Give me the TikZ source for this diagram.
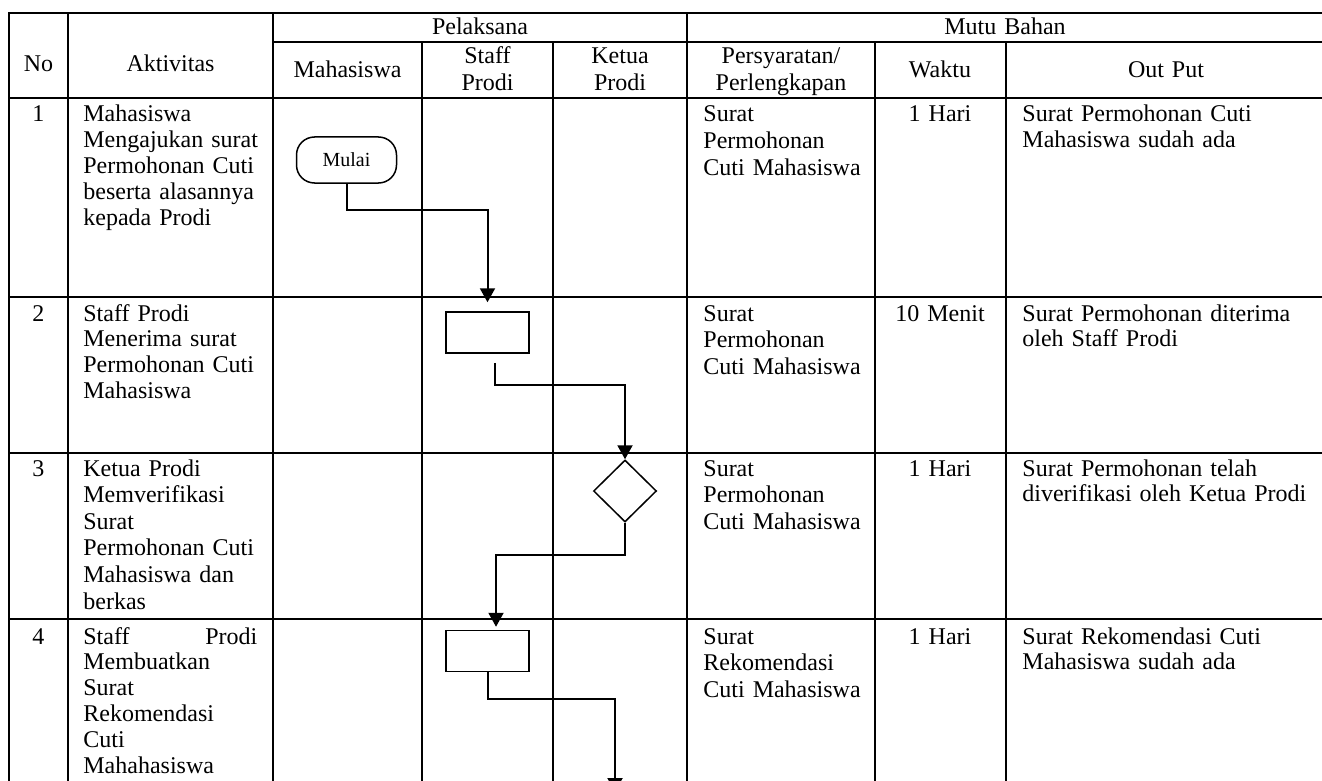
\documentclass[tikz,border=0pt]{standalone}
\usepackage{fontspec}
\setmainfont{Liberation Serif}
\usetikzlibrary{arrows.meta,shapes.geometric,positioning}

\begin{document}
\begin{tikzpicture}[x=0.5pt,y=-0.5pt,
  garis/.style={line width=1pt,line cap=rect},
  isi/.style={anchor=base west,inner sep=0pt,align=left,
    font=\fontsize{12}{12.9}\selectfont},
  aktivitas/.style={isi,text width=95pt},
  syarat/.style={isi,text width=80pt,font=\fontsize{12}{13.3}\selectfont},
  judul/.style={anchor=base,inner sep=0pt,align=center,text width=80pt,
    font=\fontsize{12}{13.4}\selectfont},
  terminal/.style={draw,line width=0.75pt,rounded corners=9pt,
    minimum width=50pt,minimum height=23pt,font=\fontsize{10}{12}\selectfont},
  proses/.style={draw,line width=0.75pt,minimum width=41.5pt,minimum height=20.5pt},
  keputusan/.style={draw,diamond,line width=0.75pt,inner sep=0pt,
    minimum width=31.5pt,minimum height=31pt},
  alur/.style={line width=1pt,-{Triangle[length=7pt,width=7.5pt]}}]
 \useasboundingbox (0,0) rectangle (1322,781);
 \clip (0,0) rectangle (1322,781);
 % garis tabel
 \foreach \x in {9,68,273,687} \draw[garis] (\x,13) -- (\x,800);
 \foreach \x in {422,553,875,1006} \draw[garis] (\x,42) -- (\x,800);
 \foreach \y in {13,98,297,453,619} \draw[garis] (9,\y) -- (1330,\y);
 \draw[garis] (273,42) -- (1330,42);
 % kepala tabel
 \node[judul] (hNo) at (38.5,72) {No};
 \node[judul] (hAkt) at (170.5,72) {Aktivitas};
 \node[judul] (hPel) at (480,35) {Pelaksana};
 \node[judul] (hMutu) at (1005,35) {Mutu Bahan};
 \node[judul] (hMhs) at (347.5,78) {Mahasiswa};
 \node[judul] (hStaff) at (487.5,64) {Staff\\Prodi};
 \node[judul] (hKetua) at (620,64) {Ketua\\Prodi};
 \node[judul] (hSyarat) at (781,64) {Persyaratan/\\Perlengkapan};
 \node[judul] (hWaktu) at (940,78) {Waktu};
 \node[judul] (hOut) at (1166,78) {Out Put};
 % baris 1
 \node[judul] (no1) at (38.5,122) {1};
 \node[aktivitas] (akt1) at (83,122) {Mahasiswa\\Mengajukan surat\\Permohonan Cuti\\beserta alasannya\\kepada Prodi};
 \node[syarat] (syr1) at (703,122) {Surat\\Permohonan\\Cuti Mahasiswa};
 \node[judul] (wkt1) at (940,122) {1 Hari};
 \node[isi,text width=145pt] (out1) at (1022,122) {Surat Permohonan Cuti\\Mahasiswa sudah ada};
 % baris 2
 \node[judul] (no2) at (38.5,321) {2};
 \node[aktivitas] (akt2) at (83,321) {Staff Prodi\\Menerima surat\\Permohonan Cuti\\Mahasiswa};
 \node[syarat] (syr2) at (703,321) {Surat\\Permohonan\\Cuti Mahasiswa};
 \node[judul] (wkt2) at (940,321) {10 Menit};
 \node[isi,text width=145pt] (out2) at (1022,321) {Surat Permohonan diterima\\oleh Staff Prodi};
 % baris 3
 \node[judul] (no3) at (38.5,476) {3};
 \node[aktivitas,font=\fontsize{12}{13.3}\selectfont] (akt3) at (83,476) {Ketua Prodi\\Memverifikasi\\Surat\\Permohonan Cuti\\Mahasiswa dan\\berkas};
 \node[syarat] (syr3) at (703,476) {Surat\\Permohonan\\Cuti Mahasiswa};
 \node[judul] (wkt3) at (940,476) {1 Hari};
 \node[isi,text width=145pt] (out3) at (1022,476) {Surat Permohonan telah\\diverifikasi oleh Ketua Prodi};
 % baris 4
 \node[judul] (no4) at (38.5,644) {4};
 \node[aktivitas] (akt4) at (83,644) {\hbox to 87pt{Staff\hfill Prodi}\\Membuatkan\\Surat\\Rekomendasi\\Cuti\\Mahahasiswa};
 \node[syarat] (syr4) at (703,644) {Surat\\Rekomendasi\\Cuti Mahasiswa};
 \node[judul] (wkt4) at (940,644) {1 Hari};
 \node[isi,text width=145pt] (out4) at (1022,644) {Surat Rekomendasi Cuti\\Mahasiswa sudah ada};
 % bagan alir
 \node[terminal] (mulai) at (346.5,160) {Mulai};
 \node[proses] (p1) at (487.5,332.5) {};
 \node[keputusan] (cek) at (625,491) {};
 \node[proses] (p2) at (487.5,651) {};
 \coordinate (keluar) at (615,792);
 \draw[alur,shorten >=4.5pt] (mulai.south) -- ++(0,26) -| (p1.north);
 \draw[alur] ([xshift=3.75pt,yshift=-4.5pt]p1.south) -- ++(0,22) -| (cek.north);
 \draw[alur] (cek.south) -- ++(0,32) -| ([xshift=4.25pt,yshift=1.5pt]p2.north);
 \draw[alur] (p2.south) -- ++(0,27) -| (keluar);
\end{tikzpicture}
\end{document}
